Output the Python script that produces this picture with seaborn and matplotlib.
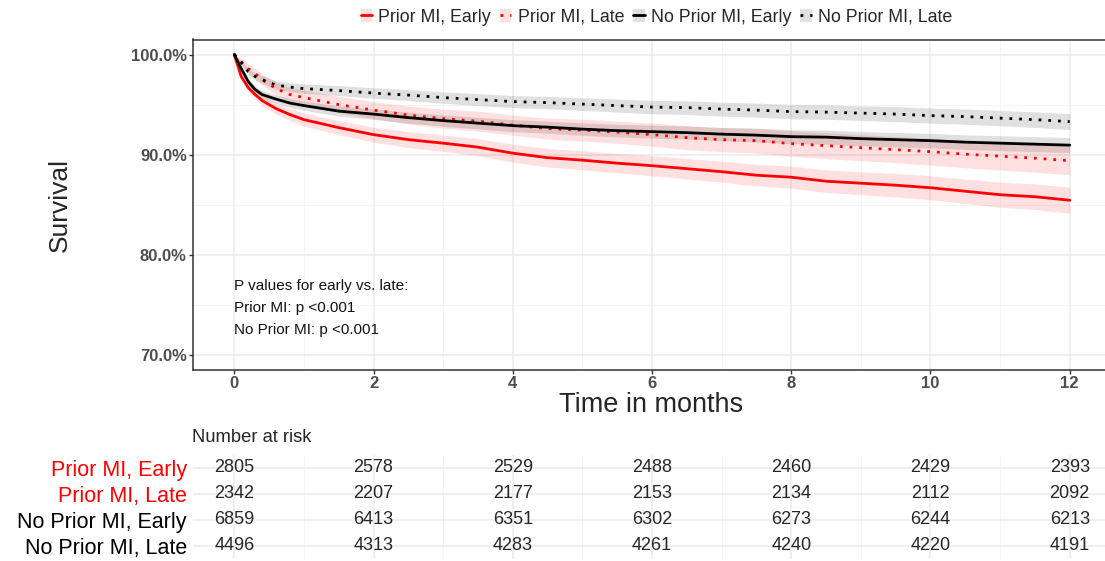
import pandas as pd
import seaborn as sns
import matplotlib.pyplot as plt
from matplotlib.lines import Line2D
from matplotlib.patches import Patch
from matplotlib.ticker import FuncFormatter, MultipleLocator

# survival curves (percent)
months = [0, 0.1, 0.2, 0.3, 0.4, 0.6, 0.8, 1.0, 1.5, 2, 2.5, 3, 3.5, 4, 4.5,
          5, 5.5, 6, 6.5, 7, 7.5, 8, 8.5, 9, 9.5, 10, 10.5, 11, 11.5, 12]

surv_prior_early = [100, 97.8, 96.7, 96.0, 95.4, 94.6, 94.0, 93.5, 92.7, 92.0, 91.5,
                    91.15, 90.75, 90.15, 89.7, 89.45, 89.15, 88.9, 88.6, 88.3, 87.95,
                    87.75, 87.35, 87.15, 86.95, 86.7, 86.35, 86.0, 85.8, 85.45]
surv_prior_late = [100, 99.3, 98.6, 98.1, 97.5, 96.6, 96.0, 95.7, 95.0, 94.45, 93.95,
                   93.6, 93.35, 92.95, 92.6, 92.45, 92.25, 92.0, 91.7, 91.5, 91.4,
                   91.1, 90.9, 90.7, 90.5, 90.3, 90.05, 89.85, 89.65, 89.4]
surv_noprior_early = [100, 98.6, 97.3, 96.5, 96.0, 95.55, 95.15, 94.9, 94.35, 94.05, 93.7,
                      93.4, 93.15, 92.9, 92.75, 92.55, 92.4, 92.3, 92.2, 92.05, 91.95,
                      91.8, 91.75, 91.6, 91.5, 91.4, 91.25, 91.15, 91.05, 90.95]
surv_noprior_late = [100, 99.2, 98.3, 97.8, 97.5, 96.95, 96.75, 96.6, 96.4, 96.15, 95.95,
                     95.7, 95.5, 95.3, 95.2, 95.05, 94.9, 94.75, 94.7, 94.55, 94.45,
                     94.3, 94.25, 94.15, 94.05, 93.9, 93.8, 93.65, 93.5, 93.3]

# half width of the confidence bands (percent points)
ci_prior_early = [0, 0.3, 0.4, 0.45, 0.5, 0.55, 0.6, 0.65, 0.7, 0.75, 0.8, 0.82, 0.85,
                  0.9, 0.92, 0.95, 0.97, 1.0, 1.02, 1.05, 1.07, 1.1, 1.12, 1.15, 1.17,
                  1.2, 1.22, 1.25, 1.28, 1.3]
ci_prior_late = [0, 0.3, 0.45, 0.5, 0.55, 0.65, 0.7, 0.75, 0.8, 0.85, 0.9, 0.95, 1.0,
                 1.0, 1.05, 1.1, 1.1, 1.15, 1.2, 1.2, 1.25, 1.25, 1.3, 1.3, 1.3, 1.35,
                 1.35, 1.4, 1.4, 1.4]
ci_noprior_early = [0, 0.2, 0.3, 0.35, 0.4, 0.42, 0.45, 0.47, 0.5, 0.52, 0.55, 0.57,
                    0.58, 0.6, 0.6, 0.62, 0.63, 0.65, 0.65, 0.67, 0.68, 0.7, 0.7, 0.7,
                    0.72, 0.72, 0.73, 0.74, 0.75, 0.75]
ci_noprior_late = [0, 0.2, 0.3, 0.35, 0.38, 0.42, 0.45, 0.47, 0.5, 0.52, 0.55, 0.57,
                   0.6, 0.6, 0.62, 0.63, 0.65, 0.67, 0.68, 0.7, 0.7, 0.72, 0.72, 0.73,
                   0.75, 0.75, 0.76, 0.77, 0.78, 0.8]

groups = ["Prior MI, Early", "Prior MI, Late", "No Prior MI, Early", "No Prior MI, Late"]
timing = ["Early", "Late", "Early", "Late"]
colors = ["#FF0000", "#FF0000", "#000000", "#000000"]

# number at risk table
risk_months = [0, 2, 4, 6, 8, 10, 12]
risk_prior_early = [2805, 2578, 2529, 2488, 2460, 2429, 2393]
risk_prior_late = [2342, 2207, 2177, 2153, 2134, 2112, 2092]
risk_noprior_early = [6859, 6413, 6351, 6302, 6273, 6244, 6213]
risk_noprior_late = [4496, 4313, 4283, 4261, 4240, 4220, 4191]

p_text = ["P values for early vs. late:", "Prior MI: p <0.001", "No Prior MI: p <0.001"]

surv = [surv_prior_early, surv_prior_late, surv_noprior_early, surv_noprior_late]
cis = [ci_prior_early, ci_prior_late, ci_noprior_early, ci_noprior_late]
risks = [risk_prior_early, risk_prior_late, risk_noprior_early, risk_noprior_late]

frames = []
for g, tm, s in zip(groups, timing, surv):
    frames.append(pd.DataFrame({"month": months, "survival": s, "group": g, "timing": tm}))
df = pd.concat(frames, ignore_index=True)

sns.set_theme(style="white")
plt.rcParams['font.family'] = ['Liberation Sans', 'DejaVu Sans']

W, H = 1105, 561
fig = plt.figure(figsize=(W / 100, H / 100), dpi=100)

xmin, xmax = -0.6, 12.6
px0, px1 = 192.5, 1111.5
ax = fig.add_axes([px0 / W, 1 - 370 / H, (px1 - px0) / W, 330.5 / H])

# confidence bands first, lines on top
for s, c, col in zip(surv, cis, colors):
    lo = [a - b for a, b in zip(s, c)]
    hi = [a + b for a, b in zip(s, c)]
    ax.fill_between(months, lo, hi, color=col, alpha=0.12, linewidth=0, zorder=1)

sns.lineplot(
    data=df, x="month", y="survival", hue="group", style="timing",
    palette=dict(zip(groups, colors)),
    dashes={"Early": "", "Late": (1, 2.5)},
    linewidth=2, estimator=None, legend=False, ax=ax, zorder=3
)

ax.set_xlim(xmin, xmax)
ax.set_ylim(68.5, 101.5)
ax.set_xticks(range(0, 13, 2))
ax.xaxis.set_minor_locator(MultipleLocator(1))
ax.set_yticks([70, 80, 90, 100])
ax.yaxis.set_minor_locator(MultipleLocator(5))
ax.yaxis.set_major_formatter(FuncFormatter(lambda v, _: f"{v:.1f}%"))
ax.set_xlabel("")
ax.set_ylabel("")
ax.grid(which="major", color="#EBEBEB", linewidth=1.1)
ax.grid(which="minor", color="#F4F4F4", linewidth=0.7)
ax.set_axisbelow(True)
for side in ["left", "bottom", "top"]:
    ax.spines[side].set_visible(True)
    ax.spines[side].set_color("#333333")
    ax.spines[side].set_linewidth(1.1)
ax.spines["right"].set_visible(False)
ax.tick_params(which="major", length=2.6, width=1, color="#333333", pad=1.5,
               labelsize=12, labelcolor="#4D4D4D", left=True, bottom=True)
ax.tick_params(which="minor", length=0)
for lab in ax.get_xticklabels() + ax.get_yticklabels():
    lab.set_fontweight("bold")

for i, line in enumerate(p_text):
    ax.text(0.0, 76.85 - i * 2.18, line, fontsize=11, color="#111111", ha="left", va="center")

fig.text(60 / W, 1 - 204.5 / H, "Survival", rotation=90, fontsize=19,
         ha="center", va="center")
fig.text(651.5 / W, 1 - 405 / H, "Time in months", fontsize=19.5,
         ha="center", va="center")

# legend
handles = []
for tm, col in zip(timing, colors):
    ls = "-" if tm == "Early" else (0, (1, 2.5))
    handles.append((Patch(facecolor=col, alpha=0.12, edgecolor="none"),
                    Line2D([], [], color=col, linewidth=2, linestyle=ls)))
fig.legend(handles, groups, loc="center", bbox_to_anchor=(0.594, 1 - 17 / H), ncol=4,
           frameon=False, fontsize=12.8, handlelength=0.65, handleheight=0.75,
           handletextpad=0.35, columnspacing=0.5)

# number at risk table
fig.text(192 / W, 1 - 437 / H, "Number at risk", fontsize=13.2, ha="left", va="center")
axt = fig.add_axes([px0 / W, 1 - 559 / H, (px1 - px0) / W, 104 / H])
axt.set_xlim(xmin, xmax)
axt.set_ylim(4, 0)
for i, r in enumerate(risks):
    for t, n in zip(risk_months, r):
        axt.text(t, i + 0.5, str(n), ha="center", va="center", fontsize=13, zorder=3)
axt.set_xticks(range(0, 13, 2))
axt.xaxis.set_minor_locator(MultipleLocator(1))
axt.set_xticklabels([])
axt.set_yticks([0.5, 1.5, 2.5, 3.5])
axt.set_yticklabels(groups, fontsize=15.5)
for lab, col in zip(axt.get_yticklabels(), colors):
    lab.set_color(col)
axt.tick_params(which="both", length=0)
axt.tick_params(axis="y", pad=4)
axt.grid(which="major", color="#EBEBEB", linewidth=1.1)
axt.grid(which="minor", axis="x", color="#F4F4F4", linewidth=0.7)
axt.set_axisbelow(True)
for sp in axt.spines.values():
    sp.set_visible(False)

fig.savefig("out.png", dpi=100)
